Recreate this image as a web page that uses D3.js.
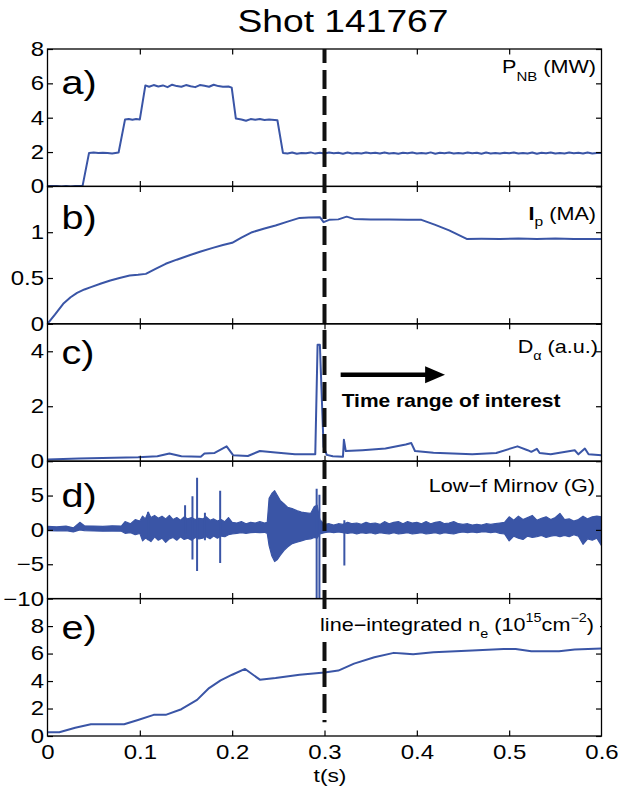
<!DOCTYPE html>
<html><head><meta charset="utf-8">
<script src="https://cdn.jsdelivr.net/npm/d3@7"></script>
<style>
body{margin:0;background:#fff}
svg{display:block}
</style>
</head><body>
<svg id="c" width="618" height="794"></svg>
<script>
// ---------------- data ----------------
const titleText = "Shot 141767";
const xTicks = [0, 0.1, 0.2, 0.3, 0.4, 0.5, 0.6];
const xLabel = "t(s)";

// a) neutral-beam power (MW)
const pnbT = [0,0.01,0.015,0.02,0.025,0.03,0.038,0.045,0.05,0.055,0.06,0.065,0.07,0.077,0.084,0.088,0.092,0.096,0.1,0.106,0.11,0.115,0.12,0.125,0.13,0.135,0.14,0.145,0.15,0.155,0.16,0.165,0.17,0.175,0.18,0.185,0.19,0.196,0.1995,0.204,0.21,0.215,0.22,0.225,0.23,0.235,0.24,0.249,0.255,
 0.26,0.265,0.27,0.275,0.28,0.285,0.29,0.295,0.3,0.305,
 0.31,0.315,0.32,0.325,0.33,0.335,0.34,0.345,0.35,0.355,
 0.36,0.365,0.37,0.375,0.38,0.385,0.39,0.395,0.4,0.405,
 0.41,0.415,0.42,0.425,0.43,0.435,0.44,0.445,0.45,0.455,
 0.46,0.465,0.47,0.475,0.48,0.485,0.49,0.495,0.5,0.505,
 0.51,0.515,0.52,0.525,0.53,0.535,0.54,0.545,0.55,0.555,
 0.56,0.565,0.57,0.575,0.58,0.585,0.59,0.595,0.6];
const pnbV = [0.03,0.03,0,0.03,0,0.02,0.03,1.95,1.97,1.94,1.96,1.95,1.92,1.97,3.9,3.93,3.88,3.92,3.9,5.88,5.8,5.9,5.82,5.88,5.78,5.92,5.84,5.8,5.9,5.83,5.78,5.9,5.86,5.8,5.92,5.84,5.8,5.82,5.75,3.95,3.9,3.82,3.92,3.88,3.93,3.87,3.9,3.85,1.95,
 1.92,1.97,1.90,1.95,1.93,1.98,1.91,1.96,1.92,1.97,
 1.93,1.96,1.90,1.97,1.92,1.95,1.91,1.97,1.93,1.96,
 1.91,1.97,1.92,1.95,1.90,1.96,1.93,1.97,1.91,1.95,
 1.92,1.98,1.90,1.96,1.93,1.97,1.91,1.95,1.92,1.97,
 1.93,1.96,1.90,1.97,1.92,1.95,1.91,1.96,1.93,1.97,
 1.91,1.95,1.92,1.97,1.90,1.96,1.93,1.97,1.91,1.95,
 1.92,1.97,1.93,1.96,1.91,1.97,1.92,1.95,1.94];

// b) plasma current (MA)
const ipT = [0,0.008,0.017,0.025,0.032,0.04,0.047,0.058,0.068,0.078,0.089,0.098,0.1065,0.117,0.128,0.14,0.153,0.166,0.179,0.19,0.2,0.21,0.2216,0.235,0.247,0.26,0.273,0.283,0.295,0.299,0.305,0.315,0.324,0.332,0.35,0.37,0.39,0.405,0.42,0.435,0.454,0.47,0.49,0.51,0.53,0.55,0.57,0.6];
const ipV = [0,0.10,0.218,0.29,0.338,0.375,0.40,0.44,0.473,0.50,0.527,0.535,0.545,0.60,0.655,0.70,0.745,0.79,0.829,0.86,0.884,0.94,1.0,1.04,1.073,1.115,1.156,1.16,1.164,1.11,1.135,1.14,1.17,1.145,1.14,1.14,1.135,1.135,1.08,1.02,0.927,0.928,0.925,0.93,0.926,0.93,0.925,0.927];

// c) D-alpha (a.u.)
const daT = [0,0.034,0.098,0.119,0.132,0.145,0.166,0.17,0.181,0.194,0.201,0.217,0.23,0.247,0.268,0.29,0.2925,0.295,0.299,0.3025,0.309,0.32,0.321,0.323,0.341,0.366,0.388,0.394,0.398,0.418,0.46,0.486,0.509,0.52,0.524,0.53,0.533,0.545,0.571,0.575,0.582,0.586,0.6];
const daV = [0.06,0.10,0.14,0.18,0.28,0.18,0.16,0.28,0.30,0.54,0.22,0.19,0.37,0.32,0.25,0.25,4.24,4.24,0.52,0.23,0.18,0.16,0.78,0.37,0.40,0.46,0.61,0.66,0.37,0.31,0.25,0.30,0.54,0.40,0.34,0.45,0.30,0.25,0.40,0.25,0.46,0.25,0.22];

// d) low-f Mirnov (G): signal envelope (upper / lower) and isolated spikes
const mirT = [0,0.01,0.02,0.028,0.035,0.04,0.05,0.06,0.07,0.08,0.084,0.09,0.095,0.1,0.103,0.106,0.109,0.112,0.116,0.12,0.124,0.128,0.132,0.136,0.14,0.144,0.148,0.152,0.156,0.16,0.164,0.168,0.172,0.176,0.18,0.184,0.188,0.192,0.196,0.2,0.205,0.21,0.215,0.22,0.225,0.23,0.235,0.238,0.24,0.243,0.246,0.249,0.252,0.256,0.26,0.265,0.27,0.275,0.28,0.285,0.289,0.292,0.295,
 0.3,0.305,0.31,0.315,0.32,0.325,0.33,0.335,0.34,0.345,
 0.35,0.355,0.36,0.365,0.37,0.375,0.38,0.385,0.39,0.395,
 0.4,0.405,0.41,0.415,0.42,0.425,0.43,0.435,0.44,0.445,
 0.45,0.455,0.46,0.465,0.47,0.475,0.48,0.485,0.49,0.495,
 0.5,0.505,0.51,0.515,0.52,0.525,0.53,0.535,0.54,0.545,
 0.55,0.555,0.56,0.565,0.57,0.575,0.58,0.585,0.59,0.595,0.6];
const mirHi = [0.5,0.45,0.55,0.3,1.1,0.6,0.55,0.5,0.6,0.55,1.2,0.9,1.5,1.3,2.0,1.6,2.6,1.8,2.1,1.7,2.0,1.6,2.1,1.5,1.8,1.4,1.9,1.6,1.8,1.5,1.7,1.6,1.9,1.4,1.6,1.3,1.5,1.2,1.8,1.1,1.0,1.2,0.9,1.1,1.0,1.2,1.0,1.1,4.6,5.3,5.7,5.0,4.3,3.8,3.3,3.1,2.8,2.6,2.5,2.4,3.4,3.6,1.5,
 0.8,0.9,0.7,0.9,0.8,1.1,0.9,1.0,0.8,1.1,
 0.9,1.0,0.8,1.2,0.9,1.1,1.2,0.9,1.2,1.0,
 1.1,0.9,1.2,0.9,1.1,1.2,0.9,1.0,1.2,0.9,
 0.8,0.9,0.7,0.8,0.7,0.9,0.8,0.9,1.0,1.1,
 1.9,1.4,2.0,1.5,1.8,2.1,1.4,1.7,1.9,1.5,
 1.8,2.4,1.5,1.6,1.3,1.5,2.0,1.6,1.9,2.0,1.9];
const mirLo = [-0.1,-0.15,-0.1,-0.3,0,-0.1,-0.15,-0.2,-0.15,-0.2,-0.5,-0.4,-0.7,-0.5,-1.6,-1.2,-1.4,-1.7,-1.0,-1.5,-1.2,-1.8,-1.3,-1.1,-1.5,-1.0,-1.4,-1.2,-1.5,-1.1,-1.3,-1.2,-1.0,-1.3,-0.9,-1.2,-0.9,-1.0,-0.7,-0.6,-0.5,-0.4,-0.5,-0.4,-0.35,-0.4,-0.35,-0.5,-2.3,-3.8,-4.6,-4.3,-3.7,-3.0,-2.5,-2.0,-1.8,-1.6,-1.4,-1.3,-1.1,-1.2,-0.6,
 -0.4,-0.3,-0.4,-0.3,-0.4,-0.5,-0.4,-0.6,-0.4,-0.5,
 -0.4,-0.6,-0.4,-0.5,-0.6,-0.4,-0.6,-0.5,-0.4,-0.6,
 -0.5,-0.4,-0.6,-0.5,-0.4,-0.6,-0.4,-0.5,-0.6,-0.4,
 -0.3,-0.4,-0.3,-0.4,-0.3,-0.3,-0.4,-0.3,-0.5,-0.6,
 -1.6,-0.9,-1.2,-1.4,-0.9,-1.1,-1.0,-0.8,-1.1,-0.9,
 -0.8,-1.0,-0.8,-1.0,-0.7,-0.9,-2.1,-1.3,-1.5,-1.2,-2.3];
const spikeT  = [0.109,0.149,0.157,0.162,0.1705,0.187,0.2915,0.2945,0.3215];
const spikeLo = [-1.5,-0.6,-4.3,-6.0,-1.5,-4.8,-10,-10,-5.2];
const spikeHi = [2.6,3.6,4.9,7.6,2.5,5.7,6.0,5.1,1.4];

// e) line-integrated density (1e15 cm^-2)
const neT = [0,0.0128,0.03,0.047,0.064,0.083,0.098,0.115,0.128,0.145,0.162,0.175,0.1875,0.2,0.214,0.23,0.247,0.273,0.3,0.315,0.332,0.354,0.375,0.385,0.396,0.418,0.46,0.494,0.507,0.524,0.554,0.571,0.6];
const neV = [0.27,0.27,0.60,0.85,0.85,0.85,1.17,1.54,1.54,1.95,2.63,3.49,4.05,4.46,4.88,4.10,4.22,4.46,4.63,4.76,5.27,5.73,6.05,6.0,5.95,6.1,6.22,6.34,6.34,6.17,6.17,6.29,6.37];

// panel y domains and ticks
const domA = [0, 8],    ticksA = [0, 2, 4, 6, 8];
const domB = [0, 1.5],  ticksB = [0, 0.5, 1];
const domC = [0, 5],    ticksC = [0, 2, 4];
const domD = [-10, 10], ticksD = [-10, -5, 0, 5];
const domE = [0, 10],   ticksE = [0, 2, 4, 6, 8];

const markTime = 0.3;
const annotText = "Time range of interest";

// ---------------- layout ----------------
const FONT = '"Liberation Sans", Arial, Helvetica, sans-serif';
const SX = 1.2;               // horizontal stretch of the original lettering
const X0 = 47.5, X1 = 601.5, TOP = 49, PH = 137.4;
const BLUE = "#3a55a6";
const fmt = d3.format("");
const svg = d3.select("#c");
const x = d3.scaleLinear().domain([0, 0.6]).range([X0, X1]);

const panels = [
  {dom: domA, ticks: ticksA, lab: "a)", labOff: 45,  rOff: 24.3},
  {dom: domB, ticks: ticksB, lab: "b)", labOff: 42.6, rOff: 34},
  {dom: domC, ticks: ticksC, lab: "c)", labOff: 40.2, rOff: 28.7},
  {dom: domD, ticks: ticksD, lab: "d)", labOff: 45.8, rOff: 30.3},
  {dom: domE, ticks: ticksE, lab: "e)", labOff: 40.4, rOff: 32.4}
];
panels.forEach((p, i) => {
  p.top = TOP + i * PH; p.bot = p.top + PH;
  p.y = d3.scaleLinear().domain(p.dom).range([p.bot, p.top]);
});

function txt(g, px, py, anchor, size, weight) {
  return g.append("text")
    .attr("transform", `translate(${px},${py}) scale(${SX},1)`)
    .attr("text-anchor", anchor)
    .attr("font-family", FONT)
    .attr("font-size", size)
    .attr("font-weight", weight || "normal")
    .attr("fill", "#000");
}
function stretchAxisText(g) {
  g.selectAll("text").each(function () {
    const t = d3.select(this);
    t.attr("x", (+t.attr("x") || 0) / SX).attr("transform", `scale(${SX},1)`);
  });
}

const defs = svg.append("defs");
panels.forEach((p, i) => {
  defs.append("clipPath").attr("id", "clip" + i)
    .append("rect").attr("x", X0).attr("y", p.top).attr("width", X1 - X0).attr("height", PH);
});

// ---------------- data marks ----------------
function drawLine(i, T, V, w) {
  const p = panels[i];
  const pts = T.map((t, k) => [t, V[k]]);
  svg.append("path")
    .attr("clip-path", `url(#clip${i})`)
    .attr("d", d3.line().x(d => x(d[0])).y(d => p.y(d[1]))(pts))
    .attr("fill", "none").attr("stroke", BLUE).attr("stroke-width", w || 2)
    .attr("stroke-linejoin", "round");
}
drawLine(0, pnbT, pnbV);
drawLine(1, ipT, ipV);
drawLine(2, daT, daV);
drawLine(4, neT, neV);

// Mirnov envelope
{
  const p = panels[3];
  const n = Math.min(mirT.length, mirHi.length, mirLo.length);
  const pts = d3.range(n).map(k => [mirT[k], mirLo[k], mirHi[k]]);
  svg.append("path")
    .attr("clip-path", "url(#clip3)")
    .attr("d", d3.area().x(d => x(d[0])).y0(d => p.y(d[1])).y1(d => p.y(d[2]))(pts))
    .attr("fill", BLUE).attr("stroke", BLUE).attr("stroke-width", 1.2)
    .attr("stroke-linejoin", "round");
  svg.append("g").attr("clip-path", "url(#clip3)")
    .selectAll("line").data(spikeT.map((t, k) => [t, spikeLo[k], spikeHi[k]]))
    .join("line")
    .attr("x1", d => x(d[0])).attr("x2", d => x(d[0]))
    .attr("y1", d => p.y(d[1])).attr("y2", d => p.y(d[2]))
    .attr("stroke", BLUE).attr("stroke-width", 2);
}

// ---------------- axes and frames ----------------
panels.forEach((p, i) => {
  const last = i === panels.length - 1;
  const gl = svg.append("g").attr("transform", `translate(${X0},0)`)
    .call(d3.axisLeft(p.y).tickValues(p.ticks).tickFormat(fmt).tickSize(-5.5).tickSizeOuter(0).tickPadding(3.5));
  gl.select(".domain").remove();
  gl.attr("font-size", 20).attr("font-family", FONT);
  gl.selectAll("line").attr("stroke-width", 1.2);
  stretchAxisText(gl);

  const gr = svg.append("g").attr("transform", `translate(${X1},0)`)
    .call(d3.axisRight(p.y).tickValues(p.ticks).tickSize(-5.5).tickSizeOuter(0).tickFormat(""));
  gr.select(".domain").remove();
  gr.selectAll("line").attr("stroke-width", 1.2);

  const gt = svg.append("g").attr("transform", `translate(0,${p.top})`)
    .call(d3.axisTop(x).tickValues(xTicks.slice(1, -1)).tickSize(-5.5).tickSizeOuter(0).tickFormat(""));
  gt.select(".domain").remove();
  gt.selectAll("line").attr("stroke-width", 1.2);

  const gb = svg.append("g").attr("transform", `translate(0,${p.bot})`)
    .call(d3.axisBottom(x).tickValues(last ? xTicks : xTicks.slice(1, -1)).tickSize(-5.5).tickSizeOuter(0)
      .tickPadding(9).tickFormat(last ? fmt : ""));
  gb.select(".domain").remove();
  gb.attr("font-size", 20).attr("font-family", FONT);
  gb.selectAll("line").attr("stroke-width", 1.2);
  if (last) {
    gb.selectAll(".tick").filter(d => d === 0 || d === 0.6).select("line").remove();
    stretchAxisText(gb);
  }

  svg.append("rect").attr("x", X0).attr("y", p.top).attr("width", X1 - X0).attr("height", PH)
    .attr("fill", "none").attr("stroke", "#000").attr("stroke-width", 1.3);
});

// ---------------- dashed marker ----------------
svg.append("line")
  .attr("x1", x(markTime)).attr("x2", x(markTime))
  .attr("y1", panels[0].y(domA[1])).attr("y2", panels[4].y(1.0))
  .attr("stroke", "#111").attr("stroke-width", 4)
  .attr("stroke-dasharray", "19,7").attr("stroke-dashoffset", 5);

// ---------------- annotation in panel c ----------------
{
  const p = panels[2];
  const ay = p.y(3.15);
  const xs = x(0.3175), xt = x(0.4305), xb = x(0.409);
  svg.append("line").attr("x1", xs).attr("x2", xb + 2).attr("y1", ay).attr("y2", ay)
    .attr("stroke", "#000").attr("stroke-width", 4.5);
  svg.append("polygon")
    .attr("points", `${xb},${ay - 8.5} ${xt},${ay} ${xb},${ay + 8.5}`)
    .attr("fill", "#000");
  txt(svg, x(0.3186), p.y(1.98), "start", 17.5, "bold").text(annotText);
}

// ---------------- texts ----------------
txt(svg, 343, 31.5, "middle", 31).text(titleText);
txt(svg, 330, 782, "middle", 19).text(xLabel);

panels.forEach(p => {
  txt(svg, 61.5, p.top + p.labOff, "start", 33).text(p.lab);
});

const RX = 596;
{
  const t = txt(svg, RX, panels[0].top + panels[0].rOff, "end", 18);
  t.append("tspan").text("P");
  t.append("tspan").attr("font-size", 12.5).attr("dy", 8).text("NB");
  t.append("tspan").attr("dy", -8).text(" (MW)");
}
{
  const t = txt(svg, RX, panels[1].top + panels[1].rOff, "end", 18);
  t.append("tspan").attr("font-weight", "bold").text("I");
  t.append("tspan").attr("font-size", 13).attr("dy", 6).text("p");
  t.append("tspan").attr("dy", -6).text(" (MA)");
}
{
  const t = txt(svg, RX + 2, panels[2].top + panels[2].rOff, "end", 18);
  t.append("tspan").text("D");
  t.append("tspan").attr("font-size", 12).attr("dy", 7).text("α");
  t.append("tspan").attr("dy", -7).text(" (a.u.)");
}
{
  txt(svg, RX - 1, panels[3].top + panels[3].rOff, "end", 18).text("Low−f Mirnov (G)");
}
{
  const p = panels[4];
  // white label box, as in the original (hides the marker behind the label)
  svg.append("rect").attr("x", 316).attr("y", p.top + 14).attr("width", X1 - 1.5 - 316).attr("height", 28)
    .attr("fill", "#fff");
  const t = txt(svg, RX - 2, p.top + p.rOff, "end", 18);
  t.append("tspan").text("line−integrated n");
  t.append("tspan").attr("font-size", 12).attr("dy", 7).text("e");
  t.append("tspan").attr("dy", -7).text(" (10");
  t.append("tspan").attr("font-size", 12).attr("dy", -9).text("15");
  t.append("tspan").attr("dy", 9).text("cm");
  t.append("tspan").attr("font-size", 12).attr("dy", -9).text("−2");
  t.append("tspan").attr("dy", 9).text(")");
}
</script>
</body></html>
